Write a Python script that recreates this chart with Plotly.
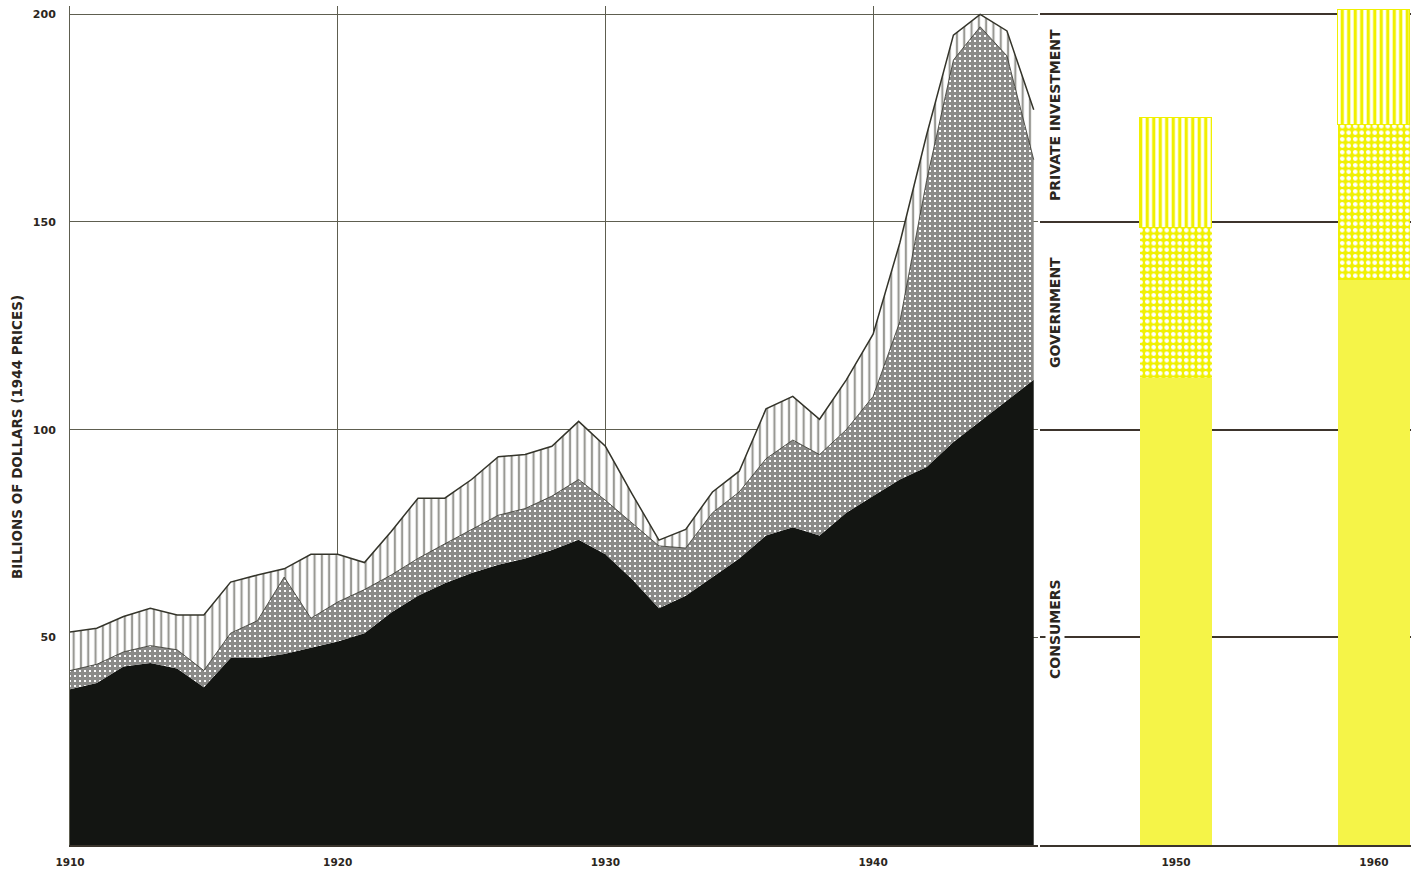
import plotly.graph_objects as go

# ---- data (billions of 1944 dollars) ----
years = list(range(1910, 1947))
consumers = [37.5, 39, 43, 43.8, 42.5, 38, 45, 45, 46, 47.5,
             49, 51, 56, 60, 63, 65.5, 67.5, 69, 71, 73.5,
             70, 64, 57, 60, 64.5, 69, 74.5, 76.5, 74.5, 80,
             84, 88, 91, 97, 102, 107, 112]
government = [4.5, 4.5, 3.5, 4.2, 4.5, 4, 6, 9, 18.5, 7.1,
              9.5, 10.5, 9, 9, 9.5, 10.5, 11.9, 12, 13, 14.5,
              13, 13.5, 15, 11.5, 15.5, 16, 18.5, 21, 19.5, 20,
              24, 38, 69, 92, 95, 83, 53]
private_investment = [9.3, 8.7, 8.5, 9, 8.4, 13.4, 12.3, 11, 2, 15.4,
                      11.5, 6.5, 10.5, 14.5, 11, 12, 14.1, 13, 12, 14,
                      13, 7, 1.4, 4.5, 5, 5, 12, 10.5, 8.5, 12,
                      15, 19, 11, 6, 3, 6, 12]

bar_years = [1950, 1960]
bar_consumers = [112.5, 136]
bar_government = [36, 37.3]
bar_private = [26.5, 27.7]

x_ticks = [1910, 1920, 1930, 1940]
y_ticks = [50, 100, 150, 200]
y_title = "BILLIONS OF DOLLARS (1944 PRICES)"
series_labels = ["PRIVATE INVESTMENT", "GOVERNMENT", "CONSUMERS"]

# ---- styling ----
INK = "#2b2620"
GRID = "#5e5e50"
BLACK = "#131512"
YELLOW = "#f0f000"
FONT = "'DejaVu Sans', sans-serif"

fig = go.Figure()

fig.add_trace(go.Scatter(
    x=years, y=consumers, stackgroup="a", mode="lines",
    line=dict(width=0, color=BLACK), fillcolor=BLACK, name="Consumers",
    xaxis="x", yaxis="y"))
fig.add_trace(go.Scatter(
    x=years, y=government, stackgroup="a", mode="lines",
    line=dict(width=0.8, color="#2a2a22"),
    fillpattern=dict(shape="+", fgcolor="#161612", bgcolor="#ffffff",
                     size=5, solidity=0.85),
    name="Government", xaxis="x", yaxis="y"))
fig.add_trace(go.Scatter(
    x=years, y=private_investment, stackgroup="a", mode="lines",
    line=dict(width=1.5, color="#34342a"),
    fillpattern=dict(shape="|", fgcolor="#34342a", bgcolor="#ffffff",
                     size=7.3, solidity=0.3),
    name="Private investment", xaxis="x", yaxis="y"))

fig.add_trace(go.Bar(
    x=bar_years, y=bar_consumers, width=3.65,
    marker=dict(color="#f5f448", line=dict(width=0)),
    xaxis="x2", yaxis="y2", name="Consumers"))
fig.add_trace(go.Bar(
    x=bar_years, y=bar_government, width=3.65,
    marker=dict(color=YELLOW, line=dict(width=0),
                pattern=dict(shape=".", fgcolor="#ffffff", bgcolor=YELLOW,
                             size=6.5, solidity=0.4, fillmode="replace")),
    xaxis="x2", yaxis="y2", name="Government"))
fig.add_trace(go.Bar(
    x=bar_years, y=bar_private, width=3.65,
    marker=dict(color="#ffffff", line=dict(width=1.5, color=YELLOW),
                pattern=dict(shape="|", fgcolor=YELLOW, bgcolor="#ffffff",
                             size=6.5, solidity=0.5, fillmode="replace")),
    xaxis="x2", yaxis="y2", name="Private investment"))

W, H = 1411, 869
L, R, T, B = 70, 0, 6, 24
pw = W - L - R
ph = H - T - B

def px_x(p):
    return (p - L) / pw

def px_y(p):
    return (H - B - p) / ph

main_end = px_x(1038)
x2_start = px_x(1040)

tick_font = dict(size=11, family=FONT, color=INK, weight="bold")

fig.update_layout(
    width=W, height=H,
    margin=dict(l=L, r=R, t=T, b=B, autoexpand=False),
    paper_bgcolor="#ffffff", plot_bgcolor="#ffffff",
    showlegend=False, barmode="stack", bargap=0,
    font=dict(family=FONT, color=INK),
    xaxis=dict(domain=[0, main_end], range=[1910, 1946.16],
               tickvals=x_ticks, ticktext=[str(v) for v in x_ticks],
               showgrid=True, gridcolor=GRID, gridwidth=1,
               showline=True, linecolor="#3a342c", linewidth=2,
               zeroline=False, ticks="", ticklabelstandoff=6,
               tickfont=dict(size=10.5, family=FONT, color=INK, weight="bold"),
               anchor="y"),
    yaxis=dict(domain=[0, 1], range=[0, 202],
               tickvals=y_ticks, ticktext=[str(v) for v in y_ticks],
               showgrid=True, gridcolor=GRID, gridwidth=1,
               showline=True, linecolor=GRID, linewidth=1,
               zeroline=False, ticks="", ticklabelstandoff=11,
               tickfont=tick_font, anchor="x"),
    xaxis2=dict(domain=[x2_start, 1], range=[1943.13, 1961.87],
                tickvals=bar_years, ticktext=[str(v) for v in bar_years],
                showgrid=False, showline=True, linecolor="#3a342c", linewidth=2,
                zeroline=False, ticks="", ticklabelstandoff=6,
                tickfont=dict(size=10.5, family=FONT, color=INK, weight="bold"),
                anchor="y2"),
    yaxis2=dict(domain=[0, 1], matches="y", range=[0, 202],
                tickvals=y_ticks, showticklabels=False,
                showgrid=True, gridcolor="#3d342c", gridwidth=2,
                showline=False, zeroline=False, ticks="", anchor="x2"),
)

label_pos = [(115, series_labels[0]), (313, series_labels[1]), (629, series_labels[2])]
for ypix, txt in label_pos:
    fig.add_annotation(
        xref="paper", yref="paper", x=px_x(1055), y=px_y(ypix),
        text=txt, textangle=-90, showarrow=False,
        xanchor="center", yanchor="middle", bgcolor="#ffffff",
        font=dict(size=14, family=FONT, color=INK, weight="bold"))

fig.add_annotation(
    xref="paper", yref="paper", x=px_x(17), y=px_y(437),
    text=y_title, textangle=-90, showarrow=False,
    xanchor="center", yanchor="middle",
    font=dict(size=13.5, family=FONT, color=INK, weight="bold"))

fig.write_html(
    "out.html",
    config={"displayModeBar": False},
    post_script="document.body.style.margin='0';document.body.style.overflow='hidden';",
)
